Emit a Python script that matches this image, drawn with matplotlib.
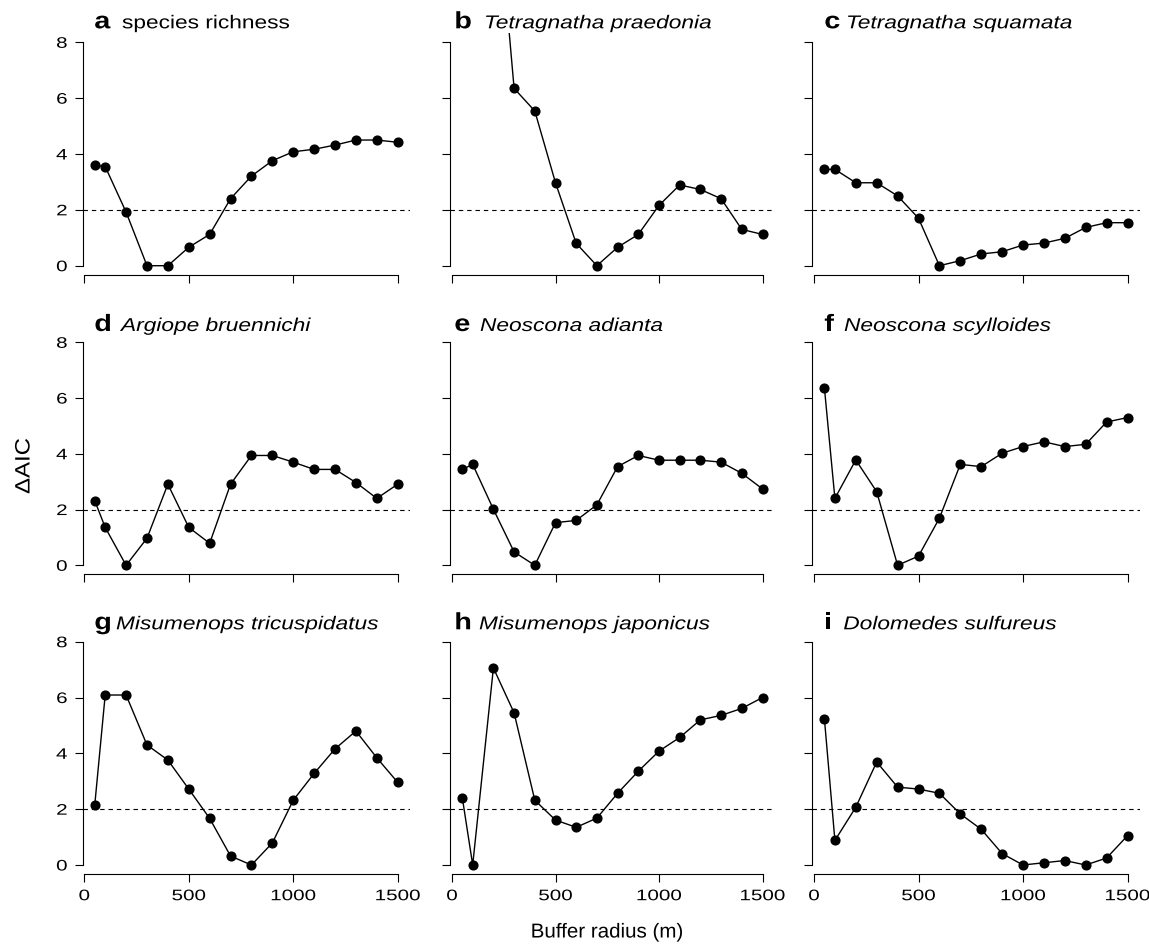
import matplotlib
matplotlib.use("Agg")
import matplotlib.pyplot as plt
from matplotlib.patheffects import AbstractPathEffect
from matplotlib.transforms import Affine2D

plt.rcParams['font.family'] = ['Liberation Sans', 'DejaVu Sans']

radius = [50, 100, 200, 300, 400, 500, 600, 700, 800, 900, 1000, 1100, 1200, 1300, 1400, 1500]

letters = ['a', 'b', 'c', 'd', 'e', 'f', 'g', 'h', 'i']
names = ['species richness', 'Tetragnatha praedonia', 'Tetragnatha squamata',
         'Argiope bruennichi', 'Neoscona adianta', 'Neoscona scylloides',
         'Misumenops tricuspidatus', 'Misumenops japonicus', 'Dolomedes sulfureus']
italic = [False, True, True, True, True, True, True, True, True]

species_richness = [3.6, 3.55, 1.92, 0.0, 0.0, 0.66, 1.12, 2.4, 3.21, 3.76, 4.08, 4.17, 4.32, 4.5, 4.5, 4.42]
t_praedonia = [16.0, 17.5, 14.8, 6.35, 5.54, 2.97, 0.8, 0.0, 0.66, 1.12, 2.16, 2.89, 2.73, 2.4, 1.3, 1.12]
t_squamata = [3.45, 3.45, 2.97, 2.97, 2.5, 1.7, 0.0, 0.18, 0.42, 0.5, 0.74, 0.81, 0.98, 1.37, 1.54, 1.54]
a_bruennichi = [2.32, 1.36, 0.0, 0.97, 2.91, 1.36, 0.79, 2.91, 3.94, 3.94, 3.7, 3.44, 3.44, 2.97, 2.4, 2.91]
n_adianta = [3.44, 3.62, 2.01, 0.48, 0.0, 1.53, 1.61, 2.17, 3.54, 3.94, 3.77, 3.77, 3.77, 3.7, 3.3, 2.74]
n_scylloides = [6.35, 2.4, 3.78, 2.64, 0.0, 0.33, 1.69, 3.62, 3.54, 4.02, 4.26, 4.43, 4.26, 4.34, 5.14, 5.3]
m_tricuspidatus = [2.15, 6.09, 6.09, 4.3, 3.76, 2.72, 1.67, 0.32, 0.0, 0.79, 2.32, 3.28, 4.16, 4.8, 3.84, 2.96]
m_japonicus = [2.4, 0.0, 7.06, 5.45, 2.32, 1.61, 1.35, 1.68, 2.57, 3.36, 4.08, 4.57, 5.2, 5.36, 5.61, 6.0]
d_sulfureus = [5.22, 0.88, 2.07, 3.69, 2.79, 2.72, 2.57, 1.83, 1.28, 0.41, 0.0, 0.08, 0.16, 0.0, 0.25, 1.05]

series = [species_richness, t_praedonia, t_squamata, a_bruennichi, n_adianta,
          n_scylloides, m_tricuspidatus, m_japonicus, d_sulfureus]

threshold = 2
yticks = [0, 2, 4, 6, 8]
xticks = [0, 500, 1000, 1500]


class HStretch(AbstractPathEffect):
    """Widen glyphs along the text direction, keeping the aligned edge fixed."""

    def __init__(self, sx, align='left'):
        super().__init__()
        self.sx = sx
        self.align = align

    def draw_path(self, renderer, gc, tpath, affine, rgbFace=None):
        ext = tpath.get_extents()
        if self.align == 'center':
            x0 = (ext.x0 + ext.x1) / 2
        elif self.align == 'right':
            x0 = ext.x1
        else:
            x0 = 0
        pre = Affine2D().translate(-x0, 0).scale(self.sx, 1).translate(x0, 0)
        renderer.draw_path(gc, tpath, pre + affine, rgbFace)


W, H = 1149, 948
fig = plt.figure(figsize=(W / 100, H / 100), dpi=100)

# pixel geometry (data 0 / 1500 in x, data 8 / 0 in y)
col_x0 = [84.3, 452.0, 814.0]
col_x1 = [397.7, 762.5, 1127.5]
row_y8 = [42.3, 342.3, 641.7]
row_y0 = [265.7, 565.3, 865.0]
letter_x = [94.3, 454.3, 824.3]
name_dx = [27.7, 29.7, 21.7, 26.7, 25.7, 19.7, 21.7, 24.7, 19.0]
title_base = [28.3, 331.0, 629.3]

xmin, xmax = 50 - 0.04 * 1450, 1500 + 0.04 * 1450
ymin, ymax = -0.32, 8.32

TICK_SX = 1.35
TITLE_SX = 1.22

for i in range(9):
    r, c = divmod(i, 3)
    s = (col_x1[c] - col_x0[c]) / 1500
    t = (row_y0[r] - row_y8[r]) / 8
    left = col_x0[c] + xmin * s
    right = col_x0[c] + xmax * s
    top = row_y8[r] - (ymax - 8) * t
    bottom = row_y0[r] - ymin * t
    ax = fig.add_axes([left / W, 1 - bottom / H, (right - left) / W, (bottom - top) / H])
    ax.set_xlim(xmin, xmax)
    ax.set_ylim(ymin, ymax)
    ax.axhline(threshold, color='black', lw=0.8, linestyle=(0, (4, 3.5)))
    ax.plot(radius, series[i], color='black', lw=1.0, marker='o', markersize=6.3,
            markerfacecolor='black', markeredgecolor='black')
    for side in ['top', 'right']:
        ax.spines[side].set_visible(False)
    ax.spines['left'].set_bounds(0, 8)
    ax.spines['bottom'].set_bounds(0, 1500)
    for side in ['left', 'bottom']:
        ax.spines[side].set_linewidth(0.8)
    ax.set_xticks(xticks)
    ax.set_yticks(yticks)
    ax.tick_params(direction='out', length=6, width=0.8, labelsize=11, pad=5)
    if c != 0:
        ax.set_yticklabels([])
    else:
        for lab in ax.get_yticklabels():
            lab.set_path_effects([HStretch(TICK_SX, 'right')])
    if r != 2:
        ax.set_xticklabels([])
    else:
        for lab in ax.get_xticklabels():
            lab.set_path_effects([HStretch(TICK_SX, 'center')])
    ly = 1 - title_base[r] / H
    fig.text(letter_x[c] / W, ly, letters[i], fontsize=17, fontweight='bold',
             ha='left', va='baseline', path_effects=[HStretch(TITLE_SX)])
    fig.text((letter_x[c] + name_dx[i]) / W, ly, names[i], fontsize=13.4,
             fontstyle='italic' if italic[i] else 'normal', ha='left', va='baseline',
             path_effects=[HStretch(TITLE_SX)])

fig.text(24 / W, 1 - 466 / H, '\u0394AIC', rotation=90, fontsize=15, ha='center', va='center',
         path_effects=[HStretch(1.15, 'center')])
fig.text(607 / W, 1 - 932 / H, 'Buffer radius (m)', fontsize=14.5, ha='center', va='center',
         path_effects=[HStretch(1.02, 'center')])

fig.savefig('out.png', dpi=100)
